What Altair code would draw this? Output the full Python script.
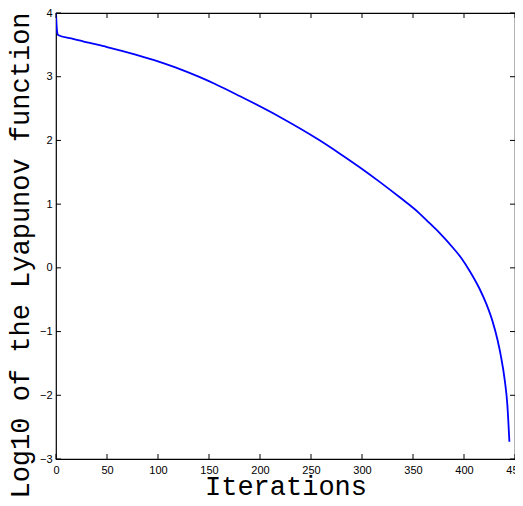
import altair as alt
import pandas as pd

# Data
iterations = [0, 1, 2, 15, 32, 50, 78, 100, 117, 141, 156, 180, 219, 258, 278, 297,
              317, 337, 356, 366, 376, 390, 398, 406, 415, 422, 428, 433, 436,
              440, 442.5, 444.5]
log_lyap = [4.0, 3.72, 3.655, 3.60, 3.534, 3.466, 3.348, 3.242, 3.147, 2.993, 2.886,
            2.697, 2.372, 2.006, 1.796, 1.587, 1.353, 1.107, 0.86, 0.705, 0.55,
            0.30, 0.14, -0.06, -0.32, -0.57, -0.84, -1.14, -1.37, -1.77, -2.15, -2.73]

x_ticks = [0, 50, 100, 150, 200, 250, 300, 350, 400, 450]
y_ticks = [-3, -2, -1, 0, 1, 2, 3, 4]

W, H = 459, 446

df = pd.DataFrame({"it": iterations, "v": log_lyap})
dfx = pd.DataFrame({"t": x_ticks})
dfy = pd.DataFrame({"t": y_ticks})

xscale = alt.Scale(domain=[0, 450], nice=False, zero=False)
yscale = alt.Scale(domain=[-3, 4], nice=False, zero=False)

line = alt.Chart(df).mark_line(color="#0000FF", strokeWidth=1.8, interpolate="monotone", clip=True).encode(
    x=alt.X("it:Q", scale=xscale, axis=alt.Axis(
        values=x_ticks, title="Iterations", labelFlush=False, labelOverlap=False,
        format="d", grid=False, ticks=False, domain=False,
        titleFont="Liberation Mono", titleFontSize=27, titleFontWeight="normal",
        titleColor="black", titleX=W / 2, titleY=35, titleBaseline="alphabetic",
        labelPadding=5)),
    y=alt.Y("v:Q", scale=yscale, axis=alt.Axis(
        values=y_ticks, title="Log10 of the Lyapunov function", labelFlush=False,
        labelOverlap=False, format="d", grid=False, ticks=False, domain=False,
        titleFont="Liberation Mono", titleFontSize=27,
        titleFontWeight="normal", titleColor="black", titleX=-36, titleY=242,
        titleAngle=270, titleAlign="center", titleBaseline="middle", labelPadding=4)),
)

tl = 5
bottom_ticks = alt.Chart(dfx).mark_rule(color="black", strokeWidth=1).encode(
    x=alt.X("t:Q", scale=xscale), y=alt.value(H), y2=alt.value(H - tl))
top_ticks = alt.Chart(dfx).mark_rule(color="black", strokeWidth=1).encode(
    x=alt.X("t:Q", scale=xscale), y=alt.value(0), y2=alt.value(tl))
left_ticks = alt.Chart(dfy).mark_rule(color="black", strokeWidth=1).encode(
    y=alt.Y("t:Q", scale=yscale), x=alt.value(0), x2=alt.value(tl))
right_ticks = alt.Chart(dfy).mark_rule(color="black", strokeWidth=1).encode(
    y=alt.Y("t:Q", scale=yscale), x=alt.value(W), x2=alt.value(W - tl))

chart = alt.layer(line, bottom_ticks, top_ticks, left_ticks, right_ticks).properties(
    width=W, height=H,
    background="white",
    autosize=alt.AutoSizeParams(type="none"),
    padding={"left": 48, "top": 5, "right": 0, "bottom": 39},
).configure_view(
    stroke="black", strokeWidth=1.2
).configure_axis(
    domain=False, ticks=False, grid=False,
    labelFont="Liberation Sans", labelFontSize=11, labelColor="black",
)

chart.save("out.html", embed_options={"renderer": "svg", "actions": False})
